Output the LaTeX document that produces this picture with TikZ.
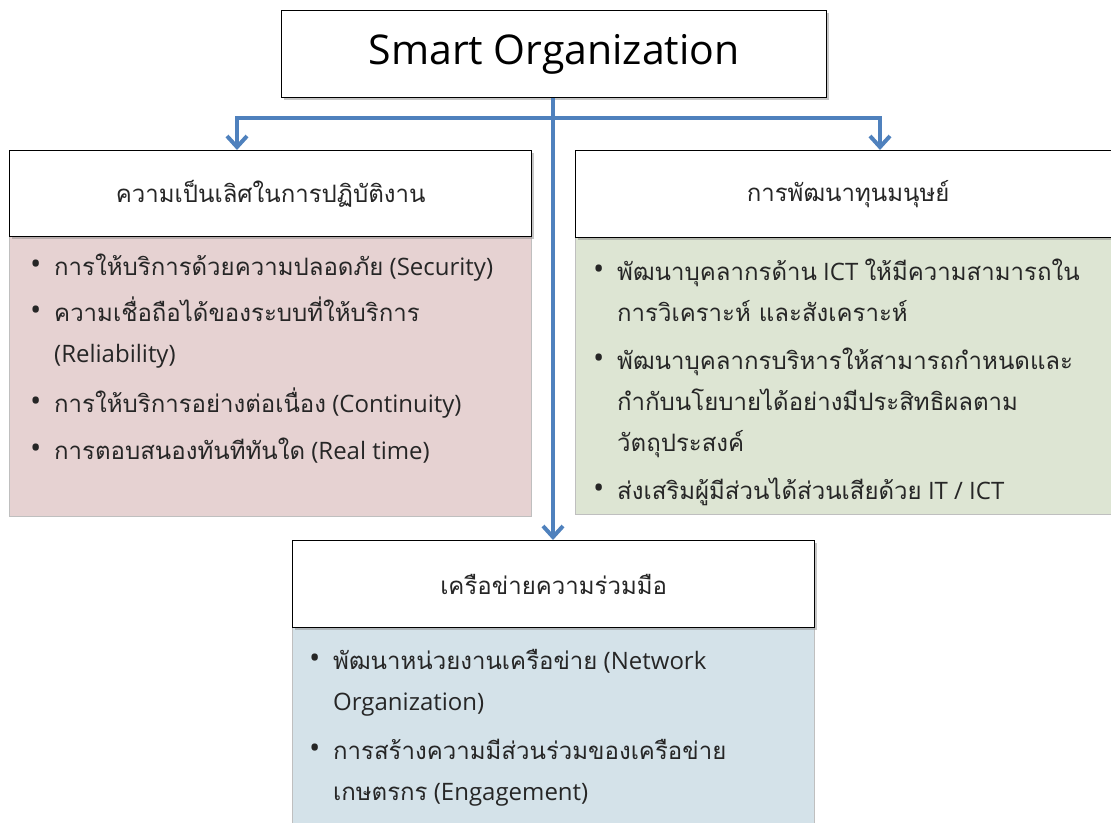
\documentclass[tikz,border=0pt]{standalone}
\usepackage{fontspec}
\setmainfont{Open Sans}
\newfontfamily\thai[Script=Thai,Scale=1.0]{Loma}
\usetikzlibrary{arrows.meta,shadows}
\definecolor{flowblue}{RGB}{79,129,189}
\definecolor{pinkfill}{RGB}{230,210,210}
\definecolor{greenfill}{RGB}{221,229,211}
\definecolor{bluefill}{RGB}{212,226,233}
\newcommand{\T}[1]{{\thai #1}}
\newcommand{\bl}{\makebox[24pt][l]{\raisebox{1pt}{\fontsize{30}{30}\selectfont\textbullet}}}
\newcommand{\ind}{\hspace*{24pt}}
\tikzset{
  hdrbox/.style={draw=black, line width=1.3pt, fill=white, anchor=north west,
    inner sep=0pt, drop shadow={shadow xshift=2pt, shadow yshift=-2pt, opacity=.45},
    font=\fontsize{24}{28}\selectfont, text=black!85},
  bodybox/.style={draw=black!25, line width=0.8pt, anchor=north west, inner sep=0pt},
  itemtext/.style={anchor=base west, align=left, inner sep=0pt,
    font=\fontsize{24}{41}\selectfont, text=black!85},
  flow/.style={draw=flowblue, line width=4pt,
    -{Straight Barb[length=11pt,width=20pt,line width=4pt]}},
}
\begin{document}
\begin{tikzpicture}[x=1pt,y=-1pt]
\clip (0,0) rectangle (1111,822);

% coloured bodies
\node[bodybox, fill=pinkfill, minimum width=522pt, minimum height=280pt] (lb) at (9,236) {};
\node[bodybox, fill=greenfill, minimum width=545pt, minimum height=277pt] (rb) at (575,237) {};
\node[bodybox, fill=bluefill, minimum width=522pt, minimum height=200pt] (bb) at (292,627) {};

% headers
\node[hdrbox, minimum width=545pt, minimum height=87pt, font=\fontsize{41}{46}\selectfont, text=black] (top) at (281,10) {Smart Organization};
\node[hdrbox, minimum width=522pt, minimum height=86pt] (lh) at (9,150) {\T{ความเป็นเลิศในการปฏิบัติงาน}};
\node[hdrbox, minimum width=545pt, minimum height=87pt] (rh) at (575,150) {\T{การพัฒนาทุนมนุษย์}};
\node[hdrbox, minimum width=522pt, minimum height=87pt] (bh) at (292,540) {\T{เครือข่ายความร่วมมือ}};

% left items (anchored at the baseline of their last line)
\node[itemtext] (l1) at (30,275) {\bl\T{การให้บริการด้วยความปลอดภัย} (Security)};
\node[itemtext] (l2) at (30,362) {\bl\T{ความเชื่อถือได้ของระบบที่ให้บริการ}\\\ind(Reliability)};
\node[itemtext] (l3) at (30,412) {\bl\T{การให้บริการอย่างต่อเนื่อง} (Continuity)};
\node[itemtext] (l4) at (30,459) {\bl\T{การตอบสนองทันทีทันใด} (Real time)};

% right items
\node[itemtext] (r1) at (593,321) {\bl\T{พัฒนาบุคลากรด้าน} ICT \T{ให้มีความสามารถใน}\\\ind\T{การวิเคราะห์ และสังเคราะห์}};
\node[itemtext] (r2) at (593,451) {\bl\T{พัฒนาบุคลากรบริหารให้สามารถกำหนดและ}\\\ind\T{กำกับนโยบายได้อย่างมีประสิทธิผลตาม}\\\ind\T{วัตถุประสงค์}};
\node[itemtext] (r3) at (593,499) {\bl\T{ส่งเสริมผู้มีส่วนได้ส่วนเสียด้วย} IT / ICT};

% bottom items
\node[itemtext] (b1) at (309,710) {\bl\T{พัฒนาหน่วยงานเครือข่าย} (Network\\\ind Organization)};
\node[itemtext] (b2) at (309,800) {\bl\T{การสร้างความมีส่วนร่วมของเครือข่าย}\\\ind\T{เกษตรกร} (Engagement)};

% connectors
\coordinate (split) at (553,118);
\coordinate (ldrop) at (237,150);
\coordinate (rdrop) at (880,150);
\draw[flow] (top.south -| split) -- (bh.north -| split);
\draw[flow] (split) -| (ldrop);
\draw[flow] (split) -| (rdrop);
\end{tikzpicture}
\end{document}
